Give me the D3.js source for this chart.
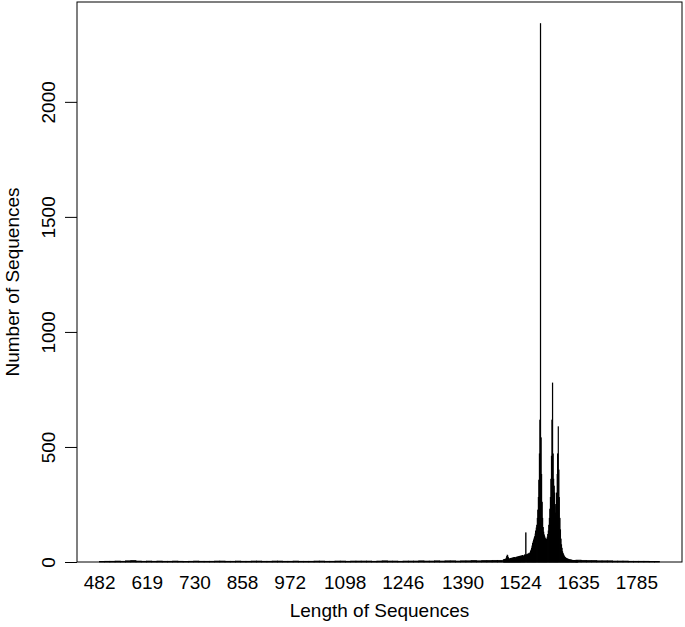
<!DOCTYPE html>
<html>
<head>
<meta charset="utf-8">
<script src="https://cdn.jsdelivr.net/npm/d3@7"></script>
<style>
  body { margin: 0; background: #fff; }
  text { font-family: "Liberation Sans", Arial, sans-serif; fill: #000; }
</style>
</head>
<body>
<div id="chart"></div>
<script>
// x tick labels (sequence lengths) and the bar index at which each sits
var tickLengths = [482, 619, 730, 858, 972, 1098, 1246, 1390, 1524, 1635, 1785];
var tickRanks   = [0, 91, 182, 273, 364, 469, 580, 694, 804, 915, 1026];
var nCategories = 1070;

// y axis ticks
var yTicks = [0, 500, 1000, 1500, 2000];
var yMax = 2434;

// low counts, one value per block of 10 bars (null = covered by peakCounts)
var blockSize = 10;
var baseCounts = [
    2, 3, 3, 4, 3, 5, 6, 4, 3, 4,
    3, 4, 3, 3, 4, 3, 2, 3, 4, 3,
    3, 3, 4, 4, 3, 3, 4, 3, 3, 4,
    4, 3, 3, 4, 4, 3, 3, 4, 3, 3,
    3, 4, 4, 3, 3, 4, 4, 3, 4, 4,
    4, 4, 3, 4, 5, 4, 4, 3, 4, 4,
    4, 5, 4, 4, 5, 4, 5, 5, 4, 5,
    5, 6, 5, 6, 6, 7, 7, null, null, null,
    null, null, null, null, null, null, null, null, null, null,
    null, 8, 7, 6, 6, 5, 5, 5, 4, 4,
    4, 3, 3, 3, 3, 2, 2
];

// counts for every length from peakStart on
var peakStart = 1484;
var peakCounts = [
    9, 10, 8, 11, 12, 10, 14, 18, 24, 30,
    27, 20, 15, 13, 12, 14, 13, 15, 16, 14,
    17, 16, 18, 15, 19, 17, 20, 18, 16, 19,
    21, 20, 22, 19, 23, 21, 24, 22, 25, 23,
    26, 24, 27, 25, 28, 26, 24, 29, 31, 28,
    127, 30, 33, 32, 35, 34, 38, 36, 40, 47,
    52, 60, 70, 81, 88, 96, 104, 110, 122, 135,
    148, 160, 190, 226, 280, 356, 470, 617, 2340, 540,
    380, 260, 190, 150, 130, 118, 110, 104, 98, 96,
    100, 108, 120, 135, 160, 190, 230, 280, 360, 460,
    617, 778, 470, 360, 330, 300, 250, 213, 240, 300,
    380, 470, 588, 400, 280, 190, 140, 100, 75, 60,
    45, 38, 32, 27, 23, 20, 18, 16, 15, 13,
    13, 12, 11, 10, 10, 9, 9, 8, 8, 7,
    7, 7, 6, 7, 6, 6, 5, 6, 5, 5
];

var width = 685, height = 627;
var plotLeft = 77, plotRight = 682, plotTop = 2, plotBottom = 562;
var fontSize = "19px";

// barplot units: bar i spans 0.2 + 1.2*i .. 1.2 + 1.2*i, plus 4% padding
var span = 1.2 * nCategories - 0.2;
var x = d3.scaleLinear()
    .domain([0.2 - 0.04 * span, 1.2 * nCategories + 0.04 * span])
    .range([plotLeft, plotRight]);

// length -> bar index
var rank = d3.scaleLinear()
    .domain(tickLengths)
    .range(tickRanks);

var y = d3.scaleLinear()
    .domain([0, yMax])
    .range([plotBottom, plotTop]);

var svg = d3.select("#chart")
    .append("svg")
    .attr("width", width)
    .attr("height", height);

// background blocks
var blocks = baseCounts.map(function(c, i) { return {i: i, count: c}; })
    .filter(function(d) { return d.count !== null; });

svg.append("g")
    .selectAll("rect")
    .data(blocks)
    .enter()
    .append("rect")
    .attr("x", function(d) { return x(0.2 + 1.2 * d.i * blockSize); })
    .attr("width", function(d) {
        var n = Math.min(blockSize, nCategories - d.i * blockSize);
        return x(1.2 * n - 0.2) - x(0);
    })
    .attr("y", function(d) { return y(d.count); })
    .attr("height", function(d) { return y(0) - y(d.count); })
    .attr("fill", "#000")
    .attr("stroke", "#000")
    .attr("stroke-width", 0.8);

// individual bars around the peaks
var bars = peakCounts.map(function(c, i) {
    return {len: peakStart + i, count: c};
});

svg.append("g")
    .selectAll("rect")
    .data(bars)
    .enter()
    .append("rect")
    .attr("x", function(d) { return x(0.2 + 1.2 * rank(d.len)); })
    .attr("width", x(1) - x(0))
    .attr("y", function(d) { return y(d.count); })
    .attr("height", function(d) { return y(0) - y(d.count); })
    .attr("fill", "#000")
    .attr("stroke", "#000")
    .attr("stroke-width", 0.8);

// plot box
svg.append("rect")
    .attr("x", plotLeft)
    .attr("y", plotTop)
    .attr("width", plotRight - plotLeft)
    .attr("height", plotBottom - plotTop)
    .attr("fill", "none")
    .attr("stroke", "#000")
    .attr("stroke-width", 1);

// y axis
var yAxis = svg.append("g")
    .attr("transform", "translate(" + plotLeft + ",0)")
    .call(d3.axisLeft(y).tickValues(yTicks).tickSize(12).tickFormat(d3.format("d")));
yAxis.select(".domain").remove();
yAxis.selectAll("line").attr("stroke", "#000");
yAxis.selectAll("text")
    .attr("x", null)
    .attr("dy", null)
    .attr("transform", "translate(-22,0) rotate(-90)")
    .style("text-anchor", "middle")
    .style("font-size", fontSize)
    .style("font-family", "Liberation Sans, Arial, sans-serif")
    .attr("fill", "#000");

// x tick labels (no tick marks)
svg.append("g")
    .selectAll("text")
    .data(tickLengths)
    .enter()
    .append("text")
    .attr("x", function(d, i) { return x(0.7 + 1.2 * tickRanks[i]); })
    .attr("y", 589)
    .style("text-anchor", "middle")
    .style("font-size", fontSize)
    .text(function(d) { return d; });

// axis titles
svg.append("text")
    .attr("x", (plotLeft + plotRight) / 2)
    .attr("y", 617)
    .style("text-anchor", "middle")
    .style("font-size", fontSize)
    .text("Length of Sequences");

svg.append("text")
    .attr("transform", "translate(19," + (plotTop + plotBottom) / 2 + ") rotate(-90)")
    .style("text-anchor", "middle")
    .style("font-size", fontSize)
    .text("Number of Sequences");
</script>
</body>
</html>
